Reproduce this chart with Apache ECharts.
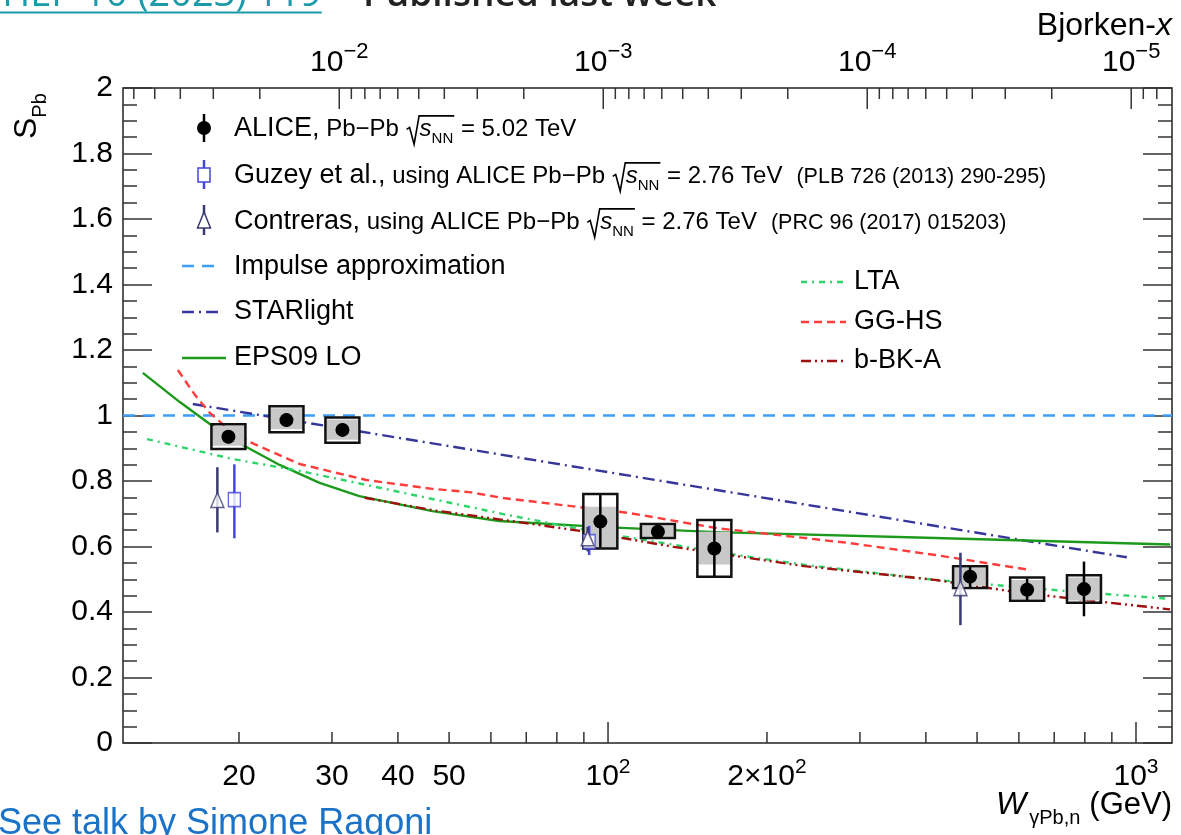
<!DOCTYPE html>
<html><head><meta charset="utf-8">
<script src="https://cdn.jsdelivr.net/npm/echarts@6/dist/echarts.min.js"></script>
<style>html,body{margin:0;padding:0;background:#fff;}#c{width:1181px;height:835px;}</style>
</head><body><div id="c"></div>
<script>
// ---------------- data ----------------
const MJPSI = 3.097;               // GeV, for the Bjorken-x axis  x = (M/W)^2
const xMinW = 12.06, xMaxW = 1170;

const aliceW      = [19.1, 24.6, 31.4, 96.7, 124.3, 159, 485, 622, 797];
const aliceS      = [0.935, 0.986, 0.956, 0.676, 0.645, 0.594, 0.508, 0.468, 0.470];
const aliceStatLo = [0.915, 0.966, 0.936, 0.597, 0.630, 0.508, 0.475, 0.435, 0.387];
const aliceStatHi = [0.955, 1.006, 0.976, 0.757, 0.660, 0.681, 0.540, 0.502, 0.554];
const aliceBoxLo  = [0.898, 0.949, 0.917, 0.594, 0.626, 0.508, 0.473, 0.434, 0.428];
const aliceBoxHi  = [0.973, 1.028, 0.994, 0.760, 0.669, 0.681, 0.540, 0.505, 0.512];
const aliceGrayLo = [0.908, 0.958, 0.926, 0.594, 0.630, 0.545, 0.480, 0.440, 0.435];
const aliceGrayHi = [0.968, 1.022, 0.988, 0.721, 0.664, 0.645, 0.535, 0.498, 0.505];

const guzeyW  = [19.6, 92.1];
const guzeyS  = [0.743, 0.615];
const guzeyLo = [0.625, 0.574];
const guzeyHi = [0.851, 0.663];

const contrW  = [18.2, 91.5, 465];
const contrS  = [0.742, 0.625, 0.473];
const contrLo = [0.643, 0.585, 0.360];
const contrHi = [0.842, 0.660, 0.581];

const impulseW = [12.06, 1170];
const impulseS = [1.0, 1.0];

const starW = [16.35, 960.7];
const starS = [1.035, 0.567];

const epsW = [13.15, 15.45, 17.61, 20.33, 23.88, 28.43, 33.8, 46.5, 62.2, 96.2, 160.7, 416.9, 1160];
const epsS = [1.130, 1.041, 0.974, 0.910, 0.849, 0.794, 0.754, 0.708, 0.678, 0.660, 0.644, 0.626, 0.606];

const ggW = [15.32, 16.50, 17.61, 18.80, 20.96, 26.05, 34.86, 46.5, 54.6, 63.3, 110.0, 160.7, 284.7, 416.9, 632.8];
const ggS = [1.139, 1.063, 1.008, 0.968, 0.919, 0.852, 0.803, 0.776, 0.766, 0.748, 0.702, 0.656, 0.611, 0.574, 0.528];

const ltaW = [13.39, 19.46, 26.05, 34.86, 46.5, 63.3, 90.9, 160.7, 235.7, 416.9, 737.5, 1160];
const ltaS = [0.928, 0.867, 0.831, 0.788, 0.745, 0.699, 0.650, 0.583, 0.544, 0.498, 0.464, 0.440];

const bbkW = [34.6, 46.5, 62.2, 91.0, 133.1, 235.4, 416.4, 608.9, 1160];
const bbkS = [0.749, 0.711, 0.683, 0.645, 0.599, 0.540, 0.498, 0.458, 0.408];

// axis ticks / labels
const bottomTickW   = [20,30,40,50,60,70,80,90,100,200,300,400,500,600,700,800,900,1000];
const bottomMajorW  = [100, 1000];
const bottomLabelW  = [20, 30, 40, 50, 100, 200, 1000];
const bottomLabels  = ['20', '30', '40', '50', '10^2', '2\u00d710^2', '10^3'];
const topTickX      = [0.06,0.05,0.04,0.03,0.02,0.01,
                       0.009,0.008,0.007,0.006,0.005,0.004,0.003,0.002,0.001,
                       0.0009,0.0008,0.0007,0.0006,0.0005,0.0004,0.0003,0.0002,0.0001,
                       0.00009,0.00008,0.00007,0.00006,0.00005,0.00004,0.00003,0.00002,0.00001,
                       0.000009,0.000008];
const topMajorX     = [0.01, 0.001, 0.0001, 0.00001];
const topLabelX     = [0.01, 0.001, 0.0001, 0.00001];
const topLabels     = ['10^\u22122', '10^\u22123', '10^\u22124', '10^\u22125'];

// ---------------- text helpers ----------------
const FONT = '"Liberation Sans", Arial, Helvetica, sans-serif';
const mctx = document.createElement('canvas').getContext('2d');
function fontStr(f, it, wt, fam) { return (it ? 'italic ' : 'normal ') + (wt || 'normal') + ' ' + f + 'px ' + (fam || FONT); }
function measure(t, f, it, wt, fam) { mctx.font = fontStr(f, it, wt, fam); return mctx.measureText(t).width; }
function build(x0, base, frags, color) {
  const els = []; let x = x0;
  for (const fr of frags) {
    if (fr.sqrt) {
      const f = fr.f || 24;
      const rx = x + 1;
      const top = base - 0.92 * f;
      const inner = build(x + 14, base, fr.sqrt, color);
      const xe = inner.x + 1;
      els.push({type: 'polyline', shape: {points: [[rx, base - 0.36 * f], [rx + 3, base - 0.44 * f], [rx + 7.5, base + 0.26 * f], [rx + 12.5, top], [xe, top]]},
        style: {stroke: color, lineWidth: 1.6, fill: 'none'}});
      els.push(...inner.els);
      x = xe;
    } else {
      x += fr.gap || 0;
      const w = measure(fr.t, fr.f, fr.it, fr.wt, fr.fam);
      const c = fr.col || color;
      els.push({type: 'text', x: x, y: base + (fr.dy || 0) - (fr.mid || 0.3465) * fr.f,
        style: {text: fr.t, font: fontStr(fr.f, fr.it, fr.wt, fr.fam), fill: c,
          align: 'left', verticalAlign: 'middle', textAlign: 'left', textVerticalAlign: 'middle'}});
      x += w;
    }
  }
  return {els, x};
}
function supFrags(s, f, fs, dy) {
  const p = s.split('^');
  const fr = [{t: p[0], f: f}];
  if (p.length > 1) fr.push({t: p[1], f: fs, dy: dy});
  return fr;
}
function centered(cx, base, frags, color) {
  const w = build(0, 0, frags, color).x;
  return build(cx - w / 2, base, frags, color).els;
}
function rightAligned(xr, base, frags, color) {
  const w = build(0, 0, frags, color).x;
  return build(xr - w, base, frags, color).els;
}

// ---------------- colours ----------------
const C_IMP = '#3d9df7', C_STAR = '#35359a', C_EPS = '#1c9a1c', C_LTA = '#2fd46a',
      C_GG = '#ff3c3c', C_BBK = '#a01010', C_GUZ = '#4646dc', C_CON = '#3a3a70';
const D_IMP = [12, 8], D_STAR = [12, 5, 2, 5], D_LTA = [6, 5, 2, 5], D_GG = [8, 5], D_BBK = [10, 4, 2, 4, 2, 4];

const zip = (a, b) => a.map((v, i) => [v, b[i]]);
function curve(name, w, s, color, dash, z) {
  return {type: 'line', name, data: zip(w, s), showSymbol: false, symbol: 'none', smooth: false,
    lineStyle: {color, width: 2.4, type: dash || 'solid', join: 'round'}, z: z || 2, silent: true};
}

// ---------------- graphics: legend, titles ----------------
const G = [];
const leg = (arr) => G.push(...arr);
const sq = (f) => [{t: 's', f: f, it: true}, {t: 'NN', f: 15, dy: 6}];

// legend markers
G.push({type: 'line', shape: {x1: 204, y1: 114, x2: 204, y2: 142}, style: {stroke: '#000', lineWidth: 2.5}});
G.push({type: 'circle', shape: {cx: 204, cy: 128, r: 7}, style: {fill: '#000'}});
G.push({type: 'line', shape: {x1: 204, y1: 160, x2: 204, y2: 189}, style: {stroke: C_GUZ, lineWidth: 2.5}});
G.push({type: 'rect', shape: {x: 198, y: 168, width: 12, height: 14}, style: {fill: '#fff', stroke: C_GUZ, lineWidth: 1.5}});
G.push({type: 'line', shape: {x1: 204, y1: 205, x2: 204, y2: 235}, style: {stroke: C_CON, lineWidth: 2.5}});
G.push({type: 'polygon', shape: {points: [[204, 212], [197.5, 228], [210.5, 228]]}, style: {fill: '#fff', stroke: C_CON, lineWidth: 1.5}});
G.push({type: 'line', shape: {x1: 182, y1: 266, x2: 216, y2: 266}, style: {stroke: C_IMP, lineWidth: 2.5, lineDash: D_IMP}});
G.push({type: 'line', shape: {x1: 182, y1: 312, x2: 218, y2: 312}, style: {stroke: C_STAR, lineWidth: 2.5, lineDash: D_STAR}});
G.push({type: 'line', shape: {x1: 182, y1: 358, x2: 226, y2: 358}, style: {stroke: C_EPS, lineWidth: 2.5}});
G.push({type: 'line', shape: {x1: 801, y1: 282, x2: 846, y2: 282}, style: {stroke: C_LTA, lineWidth: 2.5, lineDash: D_LTA}});
G.push({type: 'line', shape: {x1: 801, y1: 322, x2: 846, y2: 322}, style: {stroke: C_GG, lineWidth: 2.5, lineDash: D_GG}});
G.push({type: 'line', shape: {x1: 801, y1: 361, x2: 846, y2: 361}, style: {stroke: C_BBK, lineWidth: 2.5, lineDash: D_BBK}});

// legend texts
leg(build(234, 138, [{t: 'ALICE,', f: 27}, {t: ' Pb\u2212Pb ', f: 24}, {sqrt: sq(24), f: 24}, {t: ' = 5.02 TeV', f: 24}], '#000').els);
leg(build(234, 185, [{t: 'Guzey et al.,', f: 27}, {t: ' using ALICE Pb\u2212Pb ', f: 24}, {sqrt: sq(24), f: 24}, {t: ' = 2.76 TeV', f: 24},
  {t: '(PLB 726 (2013) 290-295)', f: 21.5, gap: 14}], '#000').els);
leg(build(234, 231, [{t: 'Contreras,', f: 27}, {t: ' using ALICE Pb\u2212Pb ', f: 24}, {sqrt: sq(24), f: 24}, {t: ' = 2.76 TeV', f: 24},
  {t: '(PRC 96 (2017) 015203)', f: 21.5, gap: 14}], '#000').els);
leg(build(234, 276, [{t: 'Impulse approximation', f: 27}], '#000').els);
leg(build(234, 321, [{t: 'STARlight', f: 27}], '#000').els);
leg(build(234, 367, [{t: 'EPS09 LO', f: 27}], '#000').els);
leg(build(854, 291, [{t: 'LTA', f: 27}], '#000').els);
leg(build(854, 331, [{t: 'GG-HS', f: 27}], '#000').els);
leg(build(854, 370, [{t: 'b-BK-A', f: 27}], '#000').els);

// axis titles
G.push({type: 'group', x: 38, y: 139, rotation: Math.PI / 2,
  children: build(0, 0, [{t: 'S', f: 32}, {t: 'Pb', f: 20, dy: 9}], '#000').els});
leg(rightAligned(1172, 816, [{t: 'W', f: 32, it: true}, {t: '\u03b3Pb,n', f: 20, dy: 9, gap: 3}, {t: '(GeV)', f: 31, gap: 9}], '#000'));
leg(rightAligned(1172, 37, [{t: 'Bjorken-', f: 32}, {t: 'x', f: 32, it: true}], '#000'));

// slide fragments around the figure
const jhep = build(-8, 10, [{t: 'JHEP 10 (2023) 119', f: 38, fam: '"Open Sans", "Noto Sans", sans-serif', mid: 0.388, col: '#1b9aaa'}], '#1b9aaa');
leg(jhep.els);
G.push({type: 'line', shape: {x1: -8, y1: 12.5, x2: jhep.x, y2: 12.5}, style: {stroke: '#1b9aaa', lineWidth: 2}});
leg(build(363, 10, [{t: 'Published last week', f: 37, wt: 600, fam: '"Open Sans", "Noto Sans", sans-serif', mid: 0.388, col: '#222'}], '#222').els);
leg(build(-2, 837, [{t: 'See talk by Simone Ragoni', f: 36, col: '#1a73c8'}], '#1a73c8').els);

// ---------------- chart ----------------
const chart = echarts.init(document.getElementById('c'), null, {renderer: 'canvas'});
const yAxisCommon = {
  type: 'value', min: 0, max: 2, interval: 0.2,
  axisLine: {show: false}, splitLine: {show: false},
  axisTick: {show: true, inside: true, length: 29, lineStyle: {color: '#333', width: 1.5}},
  minorTick: {show: true, splitNumber: 4, length: 14, lineStyle: {color: '#333', width: 1.5}},
};
chart.setOption({
  animation: false,
  backgroundColor: '#fff',
  grid: {left: 123, right: 9, top: 88, bottom: 92, show: true, borderColor: '#222', borderWidth: 1.5, backgroundColor: 'transparent'},
  xAxis: {type: 'log', logBase: 10, min: xMinW, max: xMaxW, axisLine: {show: false}, axisTick: {show: false},
    axisLabel: {show: false}, splitLine: {show: false}, minorTick: {show: false}},
  yAxis: [
    Object.assign({}, yAxisCommon, {position: 'left', axisLabel: {show: true, fontSize: 30, color: '#000', fontFamily: FONT, margin: 10}}),
    Object.assign({}, yAxisCommon, {position: 'right', axisLabel: {show: false}})
  ],
  graphic: {elements: G},
  series: [
    curve('Impulse approximation', impulseW, impulseS, C_IMP, D_IMP, 2),
    curve('STARlight', starW, starS, C_STAR, D_STAR, 2),
    curve('EPS09 LO', epsW, epsS, C_EPS, 'solid', 2),
    curve('LTA', ltaW, ltaS, C_LTA, D_LTA, 2),
    curve('GG-HS', ggW, ggS, C_GG, D_GG, 2),
    curve('b-BK-A', bbkW, bbkS, C_BBK, D_BBK, 2),
    { // bottom ticks
      type: 'custom', silent: true, clip: false, z: 6,
      data: bottomTickW.map(w => [w, 0]), encode: {x: 0, y: 1},
      renderItem: (p, api) => {
        const w = api.value(0), c = api.coord([w, 0]);
        const L = bottomMajorW.includes(w) ? 21 : 11;
        return {type: 'line', shape: {x1: c[0], y1: c[1], x2: c[0], y2: c[1] - L}, style: {stroke: '#333', lineWidth: 1.5}};
      }
    },
    { // top (Bjorken-x) ticks
      type: 'custom', silent: true, clip: false, z: 6,
      data: topTickX.map((x, i) => [MJPSI / Math.sqrt(x), 2, i]), encode: {x: 0, y: 1},
      renderItem: (p, api) => {
        const c = api.coord([api.value(0), 2]);
        const L = topMajorX.includes(topTickX[api.value(2)]) ? 21 : 11;
        return {type: 'line', shape: {x1: c[0], y1: c[1], x2: c[0], y2: c[1] + L}, style: {stroke: '#333', lineWidth: 1.5}};
      }
    },
    { // bottom labels
      type: 'custom', silent: true, clip: false, z: 6,
      data: bottomLabelW.map((w, i) => [w, 0, i]), encode: {x: 0, y: 1},
      renderItem: (p, api) => {
        const c = api.coord([api.value(0), 0]);
        return {type: 'group', children: centered(c[0], c[1] + 44, supFrags(bottomLabels[api.value(2)], 30, 21, -13), '#000')};
      }
    },
    { // top labels
      type: 'custom', silent: true, clip: false, z: 6,
      data: topLabelX.map((x, i) => [MJPSI / Math.sqrt(x), 2, i]), encode: {x: 0, y: 1},
      renderItem: (p, api) => {
        const c = api.coord([api.value(0), 2]);
        return {type: 'group', children: centered(c[0], c[1] - 15, supFrags(topLabels[api.value(2)], 30, 22, -13), '#000')};
      }
    },
    { // ALICE boxes + points
      type: 'custom', silent: true, clip: false, z: 5,
      data: aliceW.map((w, i) => [w, aliceS[i], aliceStatLo[i], aliceStatHi[i], aliceBoxLo[i], aliceBoxHi[i], aliceGrayLo[i], aliceGrayHi[i]]),
      encode: {x: 0, y: 1},
      renderItem: (p, api) => {
        const w = api.value(0);
        const Y = v => api.coord([w, v])[1];
        const x = api.coord([w, api.value(1)])[0];
        const hw = 17;
        return {type: 'group', children: [
          {type: 'rect', shape: {x: x - hw, y: Y(api.value(7)), width: 2 * hw, height: Y(api.value(6)) - Y(api.value(7))}, style: {fill: '#c8c8c8'}},
          {type: 'rect', shape: {x: x - hw, y: Y(api.value(5)), width: 2 * hw, height: Y(api.value(4)) - Y(api.value(5))}, style: {fill: 'none', stroke: '#111', lineWidth: 2.5}},
          {type: 'line', shape: {x1: x, y1: Y(api.value(2)), x2: x, y2: Y(api.value(3))}, style: {stroke: '#000', lineWidth: 2.5}},
          {type: 'circle', shape: {cx: x, cy: Y(api.value(1)), r: 7}, style: {fill: '#000'}}
        ]};
      }
    },
    { // Guzey error bars
      type: 'custom', silent: true, z: 6,
      data: guzeyW.map((w, i) => [w, guzeyLo[i], guzeyHi[i]]), encode: {x: 0, y: [1, 2]},
      renderItem: (p, api) => {
        const a = api.coord([api.value(0), api.value(1)]), b = api.coord([api.value(0), api.value(2)]);
        return {type: 'line', shape: {x1: a[0], y1: a[1], x2: b[0], y2: b[1]}, style: {stroke: C_GUZ, lineWidth: 2.5}};
      }
    },
    { // Contreras error bars
      type: 'custom', silent: true, z: 6,
      data: contrW.map((w, i) => [w, contrLo[i], contrHi[i]]), encode: {x: 0, y: [1, 2]},
      renderItem: (p, api) => {
        const a = api.coord([api.value(0), api.value(1)]), b = api.coord([api.value(0), api.value(2)]);
        return {type: 'line', shape: {x1: a[0], y1: a[1], x2: b[0], y2: b[1]}, style: {stroke: C_CON, lineWidth: 2.5}};
      }
    },
    {type: 'scatter', name: 'Guzey', data: zip(guzeyW, guzeyS), symbol: 'rect', symbolSize: [12, 14], z: 7, silent: true,
      itemStyle: {color: '#fff', borderColor: C_GUZ, borderWidth: 1.5}},
    {type: 'scatter', name: 'Contreras', data: zip(contrW, contrS), symbol: 'triangle', symbolSize: [13, 15], z: 7, silent: true,
      itemStyle: {color: '#fff', borderColor: C_CON, borderWidth: 1.5}}
  ]
});
</script></body></html>
